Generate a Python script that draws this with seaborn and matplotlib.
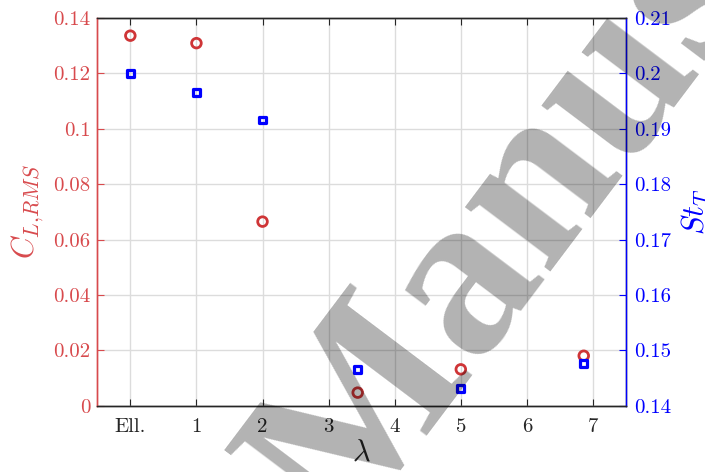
import matplotlib
matplotlib.use("Agg")
import matplotlib.pyplot as plt
import seaborn as sns
import pandas as pd

# ---- data ----
lam = [0.0, 1.0, 2.0, 3.44, 5.0, 6.86]
cl_rms = [0.1336, 0.1309, 0.0665, 0.0048, 0.0132, 0.0181]
st_t = [0.2000, 0.1965, 0.1916, 0.1466, 0.1431, 0.1476]
xtick_pos = [0, 1, 2, 3, 4, 5, 6, 7]
xtick_labels = ["Ell.", "1", "2", "3", "4", "5", "6", "7"]
cl_ticks = [0, 0.02, 0.04, 0.06, 0.08, 0.1, 0.12, 0.14]
cl_tick_labels = ["0", "0.02", "0.04", "0.06", "0.08", "0.1", "0.12", "0.14"]
st_ticks = [0.14, 0.15, 0.16, 0.17, 0.18, 0.19, 0.2, 0.21]
st_tick_labels = ["0.14", "0.15", "0.16", "0.17", "0.18", "0.19", "0.2", "0.21"]

sns.set_style("white")
plt.rcParams["mathtext.fontset"] = "cm"
plt.rcParams["font.family"] = ["cmr10", "DejaVu Serif"]
plt.rcParams["axes.unicode_minus"] = False

RED_AX = "#d84a4d"
RED_MK = "#cf3537"
BLUE = "#0000ff"

df = pd.DataFrame({"lam": lam, "cl": cl_rms, "st": st_t})

fig = plt.figure(figsize=(7.05, 4.72), dpi=100)
ax = fig.add_axes([0.138, 0.14, 0.750, 0.822])
ax2 = ax.twinx()

sns.scatterplot(data=df, x="lam", y="cl", ax=ax, marker="o", s=48,
                facecolor="none", edgecolor=RED_MK, linewidth=2.0, zorder=3)
sns.scatterplot(data=df, x="lam", y="st", ax=ax2, marker="s", s=24,
                facecolor="none", edgecolor=BLUE, linewidth=2.3, zorder=3)

ax.set_xlim(-0.5, 7.5)
ax.set_ylim(0, 0.14)
ax2.set_ylim(0.14, 0.21)

fs = 15
ax.set_xticks(xtick_pos)
ax.set_xticklabels(xtick_labels, fontsize=fs, color="#262626")
ax.set_yticks(cl_ticks)
ax.set_yticklabels(cl_tick_labels, fontsize=fs, color=RED_AX)
ax2.set_yticks(st_ticks)
ax2.set_yticklabels(st_tick_labels, fontsize=fs, color=BLUE)

ax.grid(True, color="#dcdcdc", linewidth=1.0)
ax.set_axisbelow(True)

ax.tick_params(axis="x", direction="in", length=5, width=0.8, color="#262626", pad=9,
               top=True, bottom=True)
ax.tick_params(axis="y", direction="in", length=5, width=0.8, color=RED_AX, pad=5)
ax2.tick_params(axis="y", direction="in", length=5, width=0.8, color=BLUE, pad=6)

for a in (ax, ax2):
    for sp in a.spines.values():
        sp.set_linewidth(1.0)
ax.spines["top"].set_color("#262626")
ax.spines["bottom"].set_color("#262626")
ax.spines["left"].set_color(RED_AX)
ax2.spines["left"].set_color(RED_AX)
ax2.spines["right"].set_color(BLUE)
ax2.spines["top"].set_color("#262626")
ax2.spines["bottom"].set_color("#262626")

ax.set_xlabel(r"$\lambda$", fontsize=22, color="#262626", labelpad=2)
ax.set_ylabel(r"$C_{L{,}RMS}$", fontsize=22, color=RED_AX, labelpad=5)
ax2.set_ylabel(r"$St_T$", fontsize=22, color=BLUE, labelpad=6)

# watermark
fig.text(0.487, -0.149, "Manuscript", fontsize=168, family="Liberation Serif",
         fontweight="bold", color="black", alpha=0.3, rotation=53,
         rotation_mode="anchor", ha="left", va="baseline", zorder=10)

fig.savefig("out.png", dpi=100)
